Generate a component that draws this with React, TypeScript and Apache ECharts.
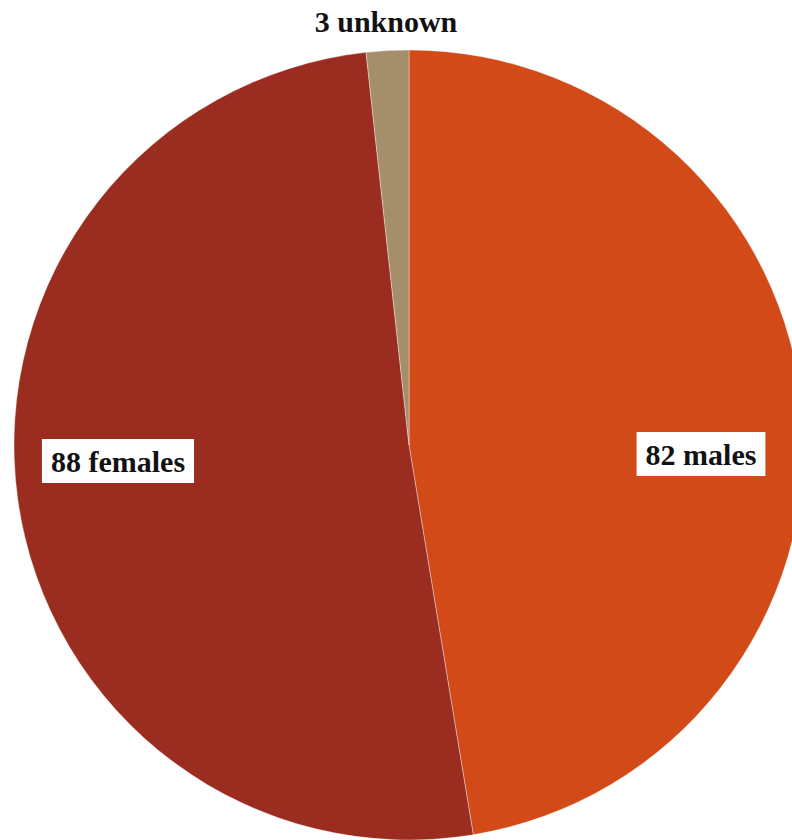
import React, { useEffect, useRef } from "react";
import * as echarts from "echarts";

const categories = ["males", "females", "unknown"];
const counts = [82, 88, 3];
const colors = ["#D24A18", "#9A2D1F", "#A58F6B"];
const labelPositions: [number, number][] = [
  [701, 454],
  [118, 461],
  [386, 21],
];

export default function App() {
  const ref = useRef<HTMLDivElement>(null);
  useEffect(() => {
    if (!ref.current) return;
    const chart = echarts.init(ref.current, undefined, { renderer: "svg" });
    const font = "Times New Roman, Liberation Serif, serif";
    chart.setOption({
      animation: false,
      backgroundColor: "#ffffff",
      series: [
        {
          type: "pie",
          center: [409, 445],
          radius: [0, 395],
          startAngle: 90,
          clockwise: true,
          avoidLabelOverlap: false,
          itemStyle: { borderColor: "rgba(255,255,255,0.6)", borderWidth: 0.6 },
          label: {
            show: true,
            position: "inside",
            formatter: "{c} {b}",
            fontFamily: font,
            fontWeight: "bold",
            fontSize: 30,
            color: "#111111",
            backgroundColor: "#ffffff",
            padding: [8, 9, 6, 9],
            align: "center",
            verticalAlign: "middle",
          },
          labelLine: { show: false },
          emphasis: { disabled: true },
          labelLayout: (params: any) => {
            const p = labelPositions[params.dataIndex];
            return { x: p[0], y: p[1], align: "center", verticalAlign: "middle" };
          },
          data: categories.map((name, i) => ({
            name,
            value: counts[i],
            itemStyle: { color: colors[i] },
            label:
              i === 2
                ? { backgroundColor: "transparent", padding: 0 }
                : undefined,
          })),
        },
      ],
    });
    return () => chart.dispose();
  }, []);
  return (
    <div
      ref={ref}
      style={{ position: "fixed", left: 0, top: 0, width: 792, height: 840 }}
    />
  );
}
